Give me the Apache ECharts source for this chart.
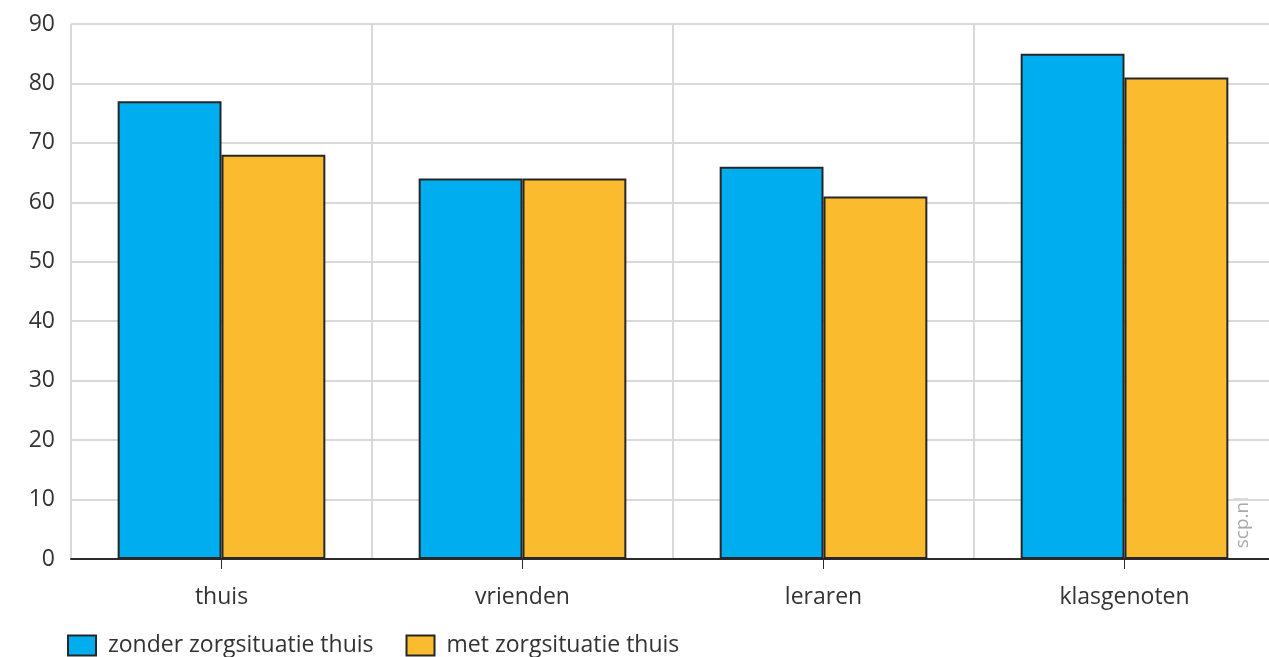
<!DOCTYPE html>
<html>
<head>
<meta charset="utf-8">
<style>
  html, body { margin: 0; padding: 0; background: #fff; }
  #chart { width: 1269px; height: 657px; }
</style>
<script src="https://cdn.jsdelivr.net/npm/echarts@6/dist/echarts.min.js"></script>
</head>
<body>
<div id="chart"></div>
<script>
// Categories and values
const categories = ['thuis', 'vrienden', 'leraren', 'klasgenoten'];
const seriesNames = ['zonder zorgsituatie thuis', 'met zorgsituatie thuis'];
const zonderZorg = [77, 64, 66, 85];
const metZorg = [68, 64, 61, 81];
const yTicks = [0, 10, 20, 30, 40, 50, 60, 70, 80, 90];

const FONT = '"Open Sans", sans-serif';
const TEXT = '#333';
const GRID = '#d9d9d9';

const chart = echarts.init(document.getElementById('chart'));
chart.setOption({
  animation: false,
  textStyle: { fontFamily: FONT },
  // plot area runs a few pixels past the right edge of the canvas
  grid: { left: 71, width: 1204, top: 24, bottom: 98, containLabel: false, outerBoundsMode: 'none' },
  legend: {
    left: 67, bottom: 0, padding: 0,
    icon: 'rect',
    itemWidth: 28, itemHeight: 20, itemGap: 32,
    textStyle: { fontFamily: FONT, fontSize: 23, color: TEXT, padding: [0, 0, 0, 7] },
    data: seriesNames
  },
  xAxis: {
    type: 'category',
    data: categories,
    boundaryGap: true,
    axisLine: { lineStyle: { color: '#2b2b2b', width: 2 } },
    axisTick: { show: true, alignWithLabel: true, length: 10, lineStyle: { color: '#2b2b2b', width: 1 } },
    axisLabel: { fontFamily: FONT, fontSize: 23, color: TEXT, margin: 27 },
    splitLine: { show: true, lineStyle: { color: GRID, width: 2 } }
  },
  yAxis: {
    type: 'value',
    min: yTicks[0],
    max: yTicks[yTicks.length - 1],
    interval: 10,
    axisLine: { show: false },
    axisTick: { show: false },
    axisLabel: { fontFamily: FONT, fontSize: 23, color: TEXT, margin: 16 },
    splitLine: { lineStyle: { color: GRID, width: 2 } }
  },
  graphic: [{
    type: 'text',
    left: 1233, top: 497,
    rotation: Math.PI / 2,
    style: { text: 'scp.nl', fontFamily: FONT, fontSize: 19, fill: '#a8a8a8' }
  }],
  series: [
    {
      name: seriesNames[0], type: 'bar', data: zonderZorg,
      barGap: '0%', barCategoryGap: '31%',
      itemStyle: { color: '#00aeef', borderColor: '#262626', borderWidth: 2 }
    },
    {
      name: seriesNames[1], type: 'bar', data: metZorg,
      itemStyle: { color: '#fbbb2f', borderColor: '#262626', borderWidth: 2 }
    }
  ]
});
</script>
</body>
</html>
